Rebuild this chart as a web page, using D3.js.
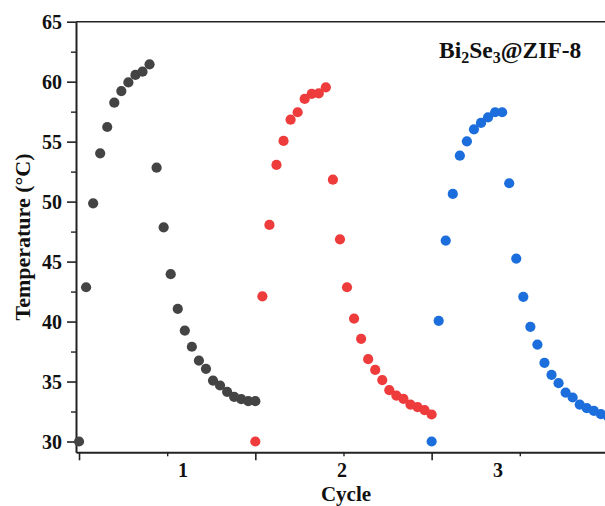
<!DOCTYPE html>
<html>
<head>
<meta charset="utf-8">
<script src="https://cdn.jsdelivr.net/npm/d3@7"></script>
<style>
  body { margin: 0; background: #fff; }
  svg { display: block; }
  .axis text { font-family: "Liberation Serif", "Times New Roman", serif; font-weight: bold; font-size: 20px; fill: #111; }
  .axis path, .axis line { stroke: #222; }
  .label { font-family: "Liberation Serif", "Times New Roman", serif; font-weight: bold; fill: #111; }
</style>
</head>
<body>
<div id="chart"></div>
<script>
// sample index along the run, one reading per step
const cycleStarts = [0, 25, 50]
const cycleColours = ['#444444', '#ee3b3b', '#1b6edb']
const cycle1 = [30, 42.86, 49.86, 54.03, 56.22, 58.25, 59.22, 59.94, 60.56, 60.83, 61.45, 52.83, 47.86, 43.95, 41.06, 39.25, 37.9, 36.75, 36.06, 35.08, 34.67, 34.14, 33.72, 33.53, 33.36, 33.36]
const cycle2 = [30, 42.1, 48.06, 53.06, 55.06, 56.83, 57.45, 58.56, 58.98, 59.03, 59.53, 51.83, 46.86, 42.86, 40.25, 38.56, 36.86, 35.97, 35.12, 34.28, 33.83, 33.56, 33.08, 32.87, 32.62, 32.25]
const cycle3 = [30, 40.06, 46.75, 50.64, 53.83, 55.03, 56.03, 56.56, 57.03, 57.45, 57.45, 51.53, 45.25, 42.06, 39.56, 38.08, 36.56, 35.56, 34.86, 34.08, 33.67, 33.08, 32.78, 32.56, 32.28, 32.1]
const cycleLabels = ['1', '2', '3']
const cycleLabelAt = [14.75, 37.3, 59.4]
const yTicks = [30, 35, 40, 45, 50, 55, 60, 65]
const yMinorTicks = [32.5, 37.5, 42.5, 47.5, 52.5, 57.5, 62.5]
const xTicks = [0, 25, 50, 75]
const xMinorTicks = [12.5, 37.5, 62.5]

const width = 605, height = 506
const margin = { top: 21.7, left: 76, bottom: 452.3 }

const points = [cycle1, cycle2, cycle3].flatMap((vals, c) =>
  vals.map((v, i) => ({ x: cycleStarts[c] + i, y: v, c })))

const x = d3.scaleLinear().domain([-0.43, 78]).range([margin.left, margin.left + 78.43 * 7.052])
const y = d3.scaleLinear().domain([29.1, 65]).range([margin.bottom, margin.top])

const svg = d3.select('#chart').append('svg')
  .attr('width', width).attr('height', height)

// top frame line
svg.append('line')
  .attr('x1', x.range()[0]).attr('x2', x.range()[1])
  .attr('y1', y(65)).attr('y2', y(65))
  .attr('stroke', '#222').attr('stroke-width', 1.6)

svg.append('g').attr('class', 'axis y minor')
  .attr('transform', `translate(${margin.left},0)`)
  .call(d3.axisLeft(y).tickValues(yMinorTicks).tickSize(5).tickFormat(''))
  .call(g => g.select('.domain').remove())
  .call(g => g.selectAll('line').attr('stroke-width', 1.4))

svg.append('g').attr('class', 'axis y')
  .attr('transform', `translate(${margin.left},0)`)
  .call(d3.axisLeft(y).tickValues(yTicks).tickSize(9).tickSizeOuter(0).tickPadding(5))
  .call(g => g.select('.domain').attr('stroke-width', 2))
  .call(g => g.selectAll('line').attr('stroke-width', 1.6))
  .call(g => g.selectAll('text').attr('dy', '0.34em'))

svg.append('g').attr('class', 'axis x minor')
  .attr('transform', `translate(0,${margin.bottom})`)
  .call(d3.axisBottom(x).tickValues(xMinorTicks).tickSize(4).tickFormat(''))
  .call(g => g.select('.domain').remove())
  .call(g => g.selectAll('line').attr('stroke-width', 1.4))

svg.append('g').attr('class', 'axis x')
  .attr('transform', `translate(0,${margin.bottom})`)
  .call(d3.axisBottom(x).tickValues(xTicks).tickSize(8).tickSizeOuter(0).tickFormat(''))
  .call(g => g.select('.domain').attr('stroke-width', 2))
  .call(g => g.selectAll('line').attr('stroke-width', 1.6))

svg.append('g').attr('class', 'axis x labels')
  .selectAll('text')
  .data(cycleLabels)
  .join('text')
    .attr('x', (d, i) => x(cycleLabelAt[i]))
    .attr('y', 477)
    .attr('text-anchor', 'middle')
    .text(d => d)

svg.append('g')
  .selectAll('circle')
  .data(points)
  .join('circle')
    .attr('cx', d => x(d.x))
    .attr('cy', d => y(d.y))
    .attr('r', 5.1)
    .attr('fill', d => cycleColours[d.c])

svg.append('text').attr('class', 'label')
  .attr('x', 346).attr('y', 501)
  .attr('text-anchor', 'middle')
  .style('font-size', '21px')
  .text('Cycle')

svg.append('text').attr('class', 'label')
  .attr('transform', `translate(30,${(margin.top + margin.bottom) / 2}) rotate(-90)`)
  .attr('text-anchor', 'middle')
  .style('font-size', '22px')
  .text('Temperature (°C)')

const title = svg.append('text').attr('class', 'label')
  .attr('x', 439).attr('y', 58)
  .style('font-size', '23.5px')
title.append('tspan').text('Bi')
title.append('tspan').attr('dy', 5).style('font-size', '16px').text('2')
title.append('tspan').attr('dy', -5).text('Se')
title.append('tspan').attr('dy', 5).style('font-size', '16px').text('3')
title.append('tspan').attr('dy', -5).text('@ZIF-8')
</script>
</body>
</html>
